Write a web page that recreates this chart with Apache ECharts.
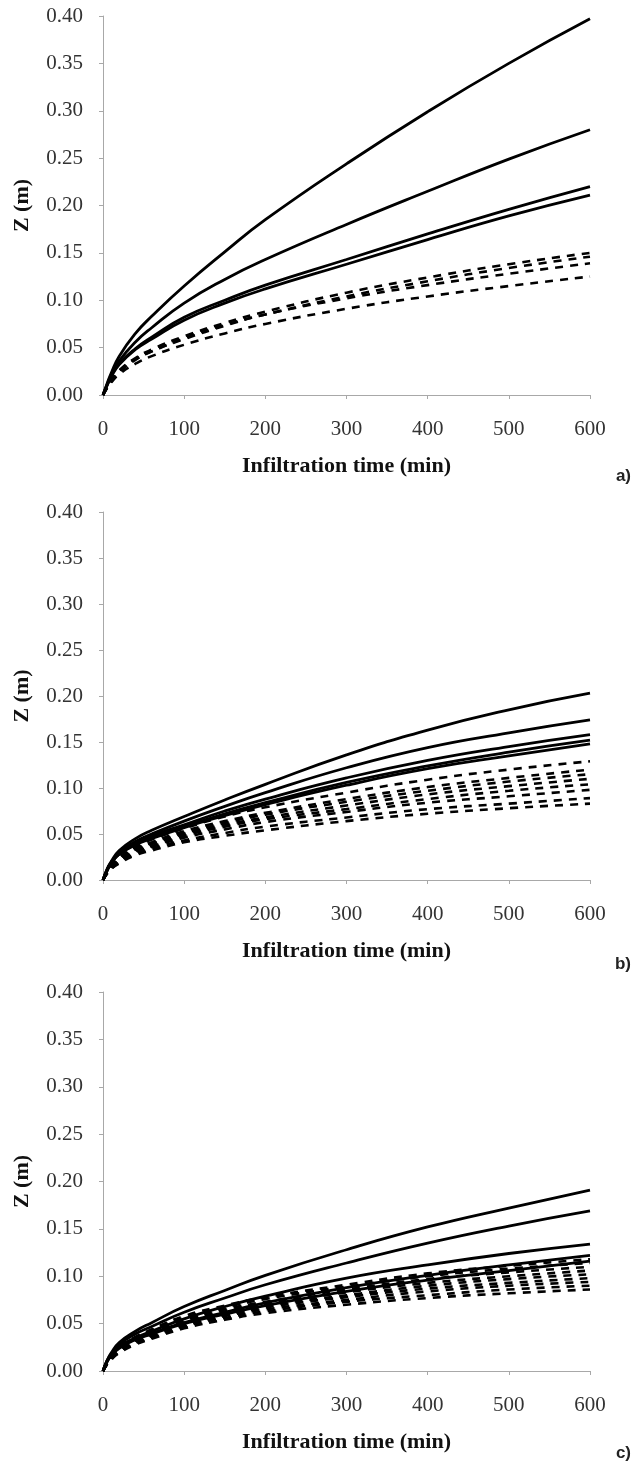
<!DOCTYPE html>
<html>
<head>
    <meta charset="utf-8">
    <script src="https://cdn.jsdelivr.net/npm/echarts@6/dist/echarts.min.js"></script>
    <style>
        html, body { margin: 0; padding: 0; background: #fff; }
        #main { width: 636px; height: 1461px; }
    </style>
</head>
<body>
<div id="main"></div>
<script>
    // infiltration time (min)
    var TIME = [0, 5, 10, 20, 40, 60, 100, 150, 200, 300, 400, 500, 600];

    // panel a) wetting front depth Z (m)
    var A_SOLID = [
        [0, 0.012, 0.023, 0.041, 0.065, 0.083, 0.115, 0.151, 0.185, 0.244, 0.299, 0.350, 0.397],
        [0, 0.011, 0.021, 0.036, 0.056, 0.071, 0.097, 0.122, 0.143, 0.180, 0.215, 0.249, 0.280],
        [0, 0.010, 0.020, 0.033, 0.049, 0.061, 0.082, 0.100, 0.116, 0.143, 0.170, 0.196, 0.220],
        [0, 0.010, 0.019, 0.032, 0.048, 0.059, 0.079, 0.097, 0.112, 0.138, 0.164, 0.189, 0.211]
    ];
    var A_DASHED = [
        [0, 0.008, 0.015, 0.026, 0.039, 0.048, 0.062, 0.076, 0.088, 0.108, 0.124, 0.138, 0.150],
        [0, 0.008, 0.015, 0.025, 0.038, 0.046, 0.060, 0.074, 0.085, 0.104, 0.120, 0.134, 0.146],
        [0, 0.008, 0.014, 0.024, 0.037, 0.046, 0.059, 0.073, 0.085, 0.102, 0.116, 0.128, 0.139],
        [0, 0.007, 0.013, 0.022, 0.033, 0.041, 0.053, 0.065, 0.075, 0.091, 0.104, 0.115, 0.125]
    ];

    // panel b)
    var B_SOLID = [
        [0, 0.012, 0.020, 0.032, 0.045, 0.054, 0.069, 0.087, 0.104, 0.136, 0.163, 0.185, 0.203],
        [0, 0.011, 0.019, 0.030, 0.042, 0.050, 0.064, 0.080, 0.095, 0.122, 0.144, 0.160, 0.174],
        [0, 0.011, 0.019, 0.029, 0.040, 0.048, 0.060, 0.075, 0.088, 0.111, 0.130, 0.145, 0.158],
        [0, 0.010, 0.018, 0.028, 0.039, 0.046, 0.058, 0.072, 0.084, 0.106, 0.124, 0.139, 0.152],
        [0, 0.010, 0.018, 0.028, 0.038, 0.045, 0.057, 0.070, 0.082, 0.103, 0.121, 0.135, 0.148]
    ];
    var B_DASHED = [
        [0, 0.009, 0.016, 0.025, 0.036, 0.044, 0.056, 0.069, 0.079, 0.095, 0.109, 0.120, 0.129],
        [0, 0.009, 0.015, 0.024, 0.034, 0.041, 0.053, 0.064, 0.073, 0.088, 0.101, 0.111, 0.120],
        [0, 0.008, 0.015, 0.023, 0.033, 0.040, 0.051, 0.062, 0.071, 0.085, 0.097, 0.107, 0.115],
        [0, 0.008, 0.014, 0.022, 0.032, 0.039, 0.050, 0.060, 0.068, 0.081, 0.093, 0.102, 0.110],
        [0, 0.008, 0.014, 0.021, 0.031, 0.037, 0.048, 0.058, 0.066, 0.077, 0.088, 0.097, 0.104],
        [0, 0.007, 0.013, 0.020, 0.030, 0.036, 0.046, 0.055, 0.063, 0.074, 0.084, 0.091, 0.098],
        [0, 0.007, 0.012, 0.019, 0.028, 0.034, 0.043, 0.051, 0.058, 0.068, 0.077, 0.083, 0.089],
        [0, 0.007, 0.012, 0.018, 0.027, 0.032, 0.041, 0.048, 0.054, 0.064, 0.072, 0.078, 0.083]
    ];

    // panel c)
    var C_SOLID = [
        [0, 0.011, 0.019, 0.030, 0.042, 0.051, 0.068, 0.085, 0.101, 0.128, 0.152, 0.172, 0.191],
        [0, 0.011, 0.018, 0.028, 0.039, 0.047, 0.062, 0.077, 0.091, 0.114, 0.135, 0.153, 0.169],
        [0, 0.010, 0.017, 0.026, 0.035, 0.042, 0.055, 0.068, 0.079, 0.098, 0.112, 0.124, 0.134],
        [0, 0.010, 0.016, 0.025, 0.034, 0.040, 0.051, 0.062, 0.072, 0.088, 0.101, 0.112, 0.122],
        [0, 0.010, 0.016, 0.024, 0.033, 0.039, 0.050, 0.060, 0.069, 0.084, 0.096, 0.106, 0.116]
    ];
    var C_DASHED = [
        [0, 0.009, 0.016, 0.025, 0.036, 0.044, 0.058, 0.069, 0.078, 0.091, 0.103, 0.111, 0.118],
        [0, 0.009, 0.015, 0.024, 0.035, 0.043, 0.056, 0.067, 0.076, 0.089, 0.100, 0.108, 0.114],
        [0, 0.008, 0.015, 0.023, 0.034, 0.042, 0.054, 0.065, 0.073, 0.086, 0.097, 0.104, 0.110],
        [0, 0.008, 0.014, 0.023, 0.033, 0.040, 0.053, 0.063, 0.071, 0.083, 0.093, 0.100, 0.106],
        [0, 0.008, 0.014, 0.022, 0.032, 0.039, 0.051, 0.061, 0.069, 0.080, 0.090, 0.097, 0.102],
        [0, 0.008, 0.013, 0.021, 0.031, 0.038, 0.050, 0.059, 0.067, 0.078, 0.087, 0.093, 0.098],
        [0, 0.007, 0.013, 0.021, 0.030, 0.037, 0.048, 0.058, 0.065, 0.075, 0.084, 0.090, 0.094],
        [0, 0.007, 0.012, 0.020, 0.029, 0.035, 0.047, 0.056, 0.063, 0.073, 0.080, 0.086, 0.090],
        [0, 0.007, 0.012, 0.019, 0.028, 0.034, 0.045, 0.054, 0.061, 0.070, 0.077, 0.082, 0.086]
    ];

    var PANEL_LABELS = ['a)', 'b)', 'c)'];
    var X_NAME = 'Infiltration time (min)';
    var Y_NAME = 'Z (m)';

    var chart = echarts.init(document.getElementById('main'), null, {renderer: 'canvas'});

    var panels = [
        {solid: A_SOLID, dashed: A_DASHED, top: 16, height: 379, labelTop: 463},
        {solid: B_SOLID, dashed: B_DASHED, top: 512, height: 368, labelTop: 951},
        {solid: C_SOLID, dashed: C_DASHED, top: 992, height: 379, labelTop: 1440}
    ];

    var serif = '"Liberation Serif", "Times New Roman", serif';
    var axisGray = '#a8a8a8';

    var grids = [], xAxes = [], yAxes = [], titles = [], series = [];

    function toPoints(vals) {
        return TIME.map(function (t, i) { return [t, vals[i]]; });
    }

    panels.forEach(function (p, k) {
        grids.push({left: 103, width: 487, top: p.top, height: p.height});
        xAxes.push({
            gridIndex: k,
            type: 'value',
            min: 0,
            max: 600,
            interval: 100,
            name: X_NAME,
            nameLocation: 'middle',
            nameGap: 60,
            nameTextStyle: {fontFamily: serif, fontWeight: 'bold', fontSize: 22, color: '#111'},
            axisLine: {show: true, lineStyle: {color: axisGray, width: 1}},
            axisTick: {show: true, length: 4, lineStyle: {color: axisGray}},
            axisLabel: {fontFamily: serif, fontSize: 21, color: '#333', margin: 24},
            splitLine: {show: false}
        });
        yAxes.push({
            gridIndex: k,
            type: 'value',
            min: 0,
            max: 0.4,
            interval: 0.05,
            name: Y_NAME,
            nameLocation: 'middle',
            nameGap: 70,
            nameTextStyle: {fontFamily: serif, fontWeight: 'bold', fontSize: 22, color: '#111'},
            axisLine: {show: true, lineStyle: {color: axisGray, width: 1}},
            axisTick: {show: true, length: 4, lineStyle: {color: axisGray}},
            axisLabel: {
                fontFamily: serif, fontSize: 21, color: '#333', margin: 20,
                formatter: function (v) { return v.toFixed(2); }
            },
            splitLine: {show: false}
        });
        titles.push({
            text: PANEL_LABELS[k],
            right: 0,
            top: p.labelTop,
            textStyle: {fontFamily: '"Liberation Sans", Arial, sans-serif', fontWeight: 'bold', fontSize: 17, color: '#222'}
        });
        p.dashed.forEach(function (vals) {
            series.push({
                type: 'line', xAxisIndex: k, yAxisIndex: k,
                data: toPoints(vals),
                showSymbol: false, smooth: 0.5,
                lineStyle: {color: '#000', width: 2.6, type: [8, 7]}
            });
        });
        p.solid.forEach(function (vals) {
            series.push({
                type: 'line', xAxisIndex: k, yAxisIndex: k,
                data: toPoints(vals),
                showSymbol: false, smooth: 0.5,
                lineStyle: {color: '#000', width: 2.8, type: 'solid'}
            });
        });
    });

    chart.setOption({
        animation: false,
        backgroundColor: '#fff',
        title: titles,
        grid: grids,
        xAxis: xAxes,
        yAxis: yAxes,
        series: series
    });
</script>
</body>
</html>
